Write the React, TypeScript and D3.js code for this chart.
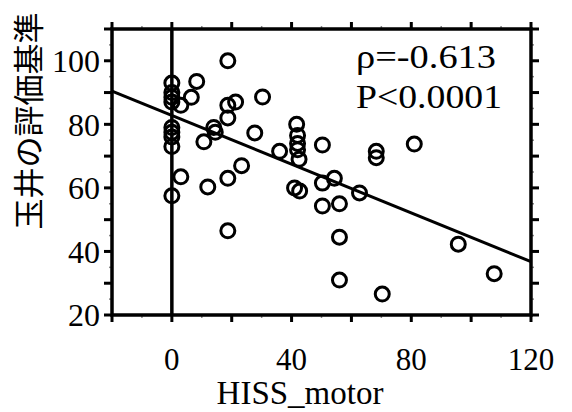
import React from "react";
import * as d3 from "d3";

const xValues = [0, 0, 0, 0, 0, 0, 0, 0, 0, 3, 3, 6.5, 8.3, 10.7, 12, 14, 14.5, 18.7, 18.7, 21.3, 18.7, 18.7, 18.7, 23.3, 27.7, 30.3, 36, 41.7, 42, 42, 42, 42.5, 41, 42.7, 50.3, 50.3, 54.3, 50.3, 56, 56, 56, 62.7, 68.3, 68.3, 70.3, 81, 95.7, 107.7];
const yValues = [93, 90, 88.5, 87, 79, 77.5, 76, 73, 57.5, 86, 63.5, 88.5, 93.5, 74.5, 60.3, 79, 77.5, 100, 86, 87, 82, 63, 46.5, 67, 77.3, 88.6, 71.5, 80, 76.5, 74, 72, 69, 60, 59, 73.5, 61.5, 63, 54.3, 55, 44.5, 31, 58.4, 71.5, 69.5, 26.6, 73.8, 42.3, 33];
const xTickLabels = [0, 40, 80, 120];
const yTickLabels = [20, 40, 60, 80, 100];
const fitIntercept = 82.8;
const fitSlope = -0.3836;
const xLabel = "HISS_motor";
const yLabel = "玉井の評価基準";
const statLines = ["ρ=-0.613", "P<0.0001"];

export default function App() {
  const W = 572, H = 412;
  const left = 112, right = 531, top = 29, bottom = 315;
  const x = d3.scaleLinear().domain([-20, 120]).range([left, right]);
  const y = d3.scaleLinear().domain([20, 110]).range([bottom, top]);
  const xMajor = d3.range(-20, 121, 20);
  const xMinor = d3.range(-20, 121, 10);
  const yMajor = d3.range(20, 111, 10);
  const yMinor = d3.range(20, 111, 5);
  const serif = "'Liberation Serif', 'Times New Roman', serif";
  const line = d3.line<number>().x((d) => x(d)).y((d) => y(fitIntercept + fitSlope * d));
  const statWidths = [140, 146];
  return (
    <svg width={W} height={H} style={{ position: "fixed", left: 0, top: 0, background: "#fff" }}>
      {xMinor.map((v) => (
        <g key={"xm" + v}>
          <line x1={x(v)} x2={x(v)} y1={bottom} y2={bottom + 3} stroke="#888" strokeWidth={1.5} />
          <line x1={x(v)} x2={x(v)} y1={top} y2={top - 3} stroke="#888" strokeWidth={1.5} />
        </g>
      ))}
      {yMinor.map((v) => (
        <g key={"ym" + v}>
          <line x1={left} x2={left - 3} y1={y(v)} y2={y(v)} stroke="#888" strokeWidth={1.5} />
          <line x1={right} x2={right + 3} y1={y(v)} y2={y(v)} stroke="#888" strokeWidth={1.5} />
        </g>
      ))}
      {xMajor.map((v) => (
        <g key={"xM" + v}>
          <line x1={x(v)} x2={x(v)} y1={bottom} y2={bottom + 7} stroke="#000" strokeWidth={3} />
          <line x1={x(v)} x2={x(v)} y1={top} y2={top - 7} stroke="#000" strokeWidth={3} />
        </g>
      ))}
      {yMajor.map((v) => (
        <g key={"yM" + v}>
          <line x1={left} x2={left - 8} y1={y(v)} y2={y(v)} stroke="#000" strokeWidth={3} />
          <line x1={right} x2={right + 8} y1={y(v)} y2={y(v)} stroke="#000" strokeWidth={3} />
        </g>
      ))}
      <rect x={left} y={top} width={right - left} height={bottom - top} fill="none" stroke="#000" strokeWidth={3.5} />
      <line x1={x(0)} x2={x(0)} y1={top} y2={bottom} stroke="#000" strokeWidth={3.5} />
      <path d={line([-20, 120]) || ""} fill="none" stroke="#000" strokeWidth={3} />
      {xValues.map((xv, i) => (
        <circle key={"p" + i} cx={x(xv)} cy={y(yValues[i])} r={7} fill="none" stroke="#000" strokeWidth={3} />
      ))}
      {xTickLabels.map((v) => (
        <text key={"xl" + v} x={x(v)} y={370} textAnchor="middle" fontFamily={serif} fontSize={31} fill="#000">{v}</text>
      ))}
      {yTickLabels.map((v) => (
        <text key={"yl" + v} x={100} y={y(v)} dy="0.35em" textAnchor="end" fontFamily={serif} fontSize={32} fill="#000">{v}</text>
      ))}
      <text x={300} y={404} textAnchor="middle" fontFamily={serif} fontSize={33} fill="#000">{xLabel}</text>
      <text transform={`translate(40,121) rotate(-90)`} textAnchor="middle" fontFamily="'Noto Sans CJK JP', sans-serif" fontSize={31} fill="#000">{yLabel}</text>
      {statLines.map((s, i) => (
        <text key={"s" + i} x={356} y={68 + i * 40} textLength={statWidths[i]} lengthAdjust="spacingAndGlyphs" fontFamily={serif} fontSize={33} fill="#000">{s}</text>
      ))}
    </svg>
  );
}
